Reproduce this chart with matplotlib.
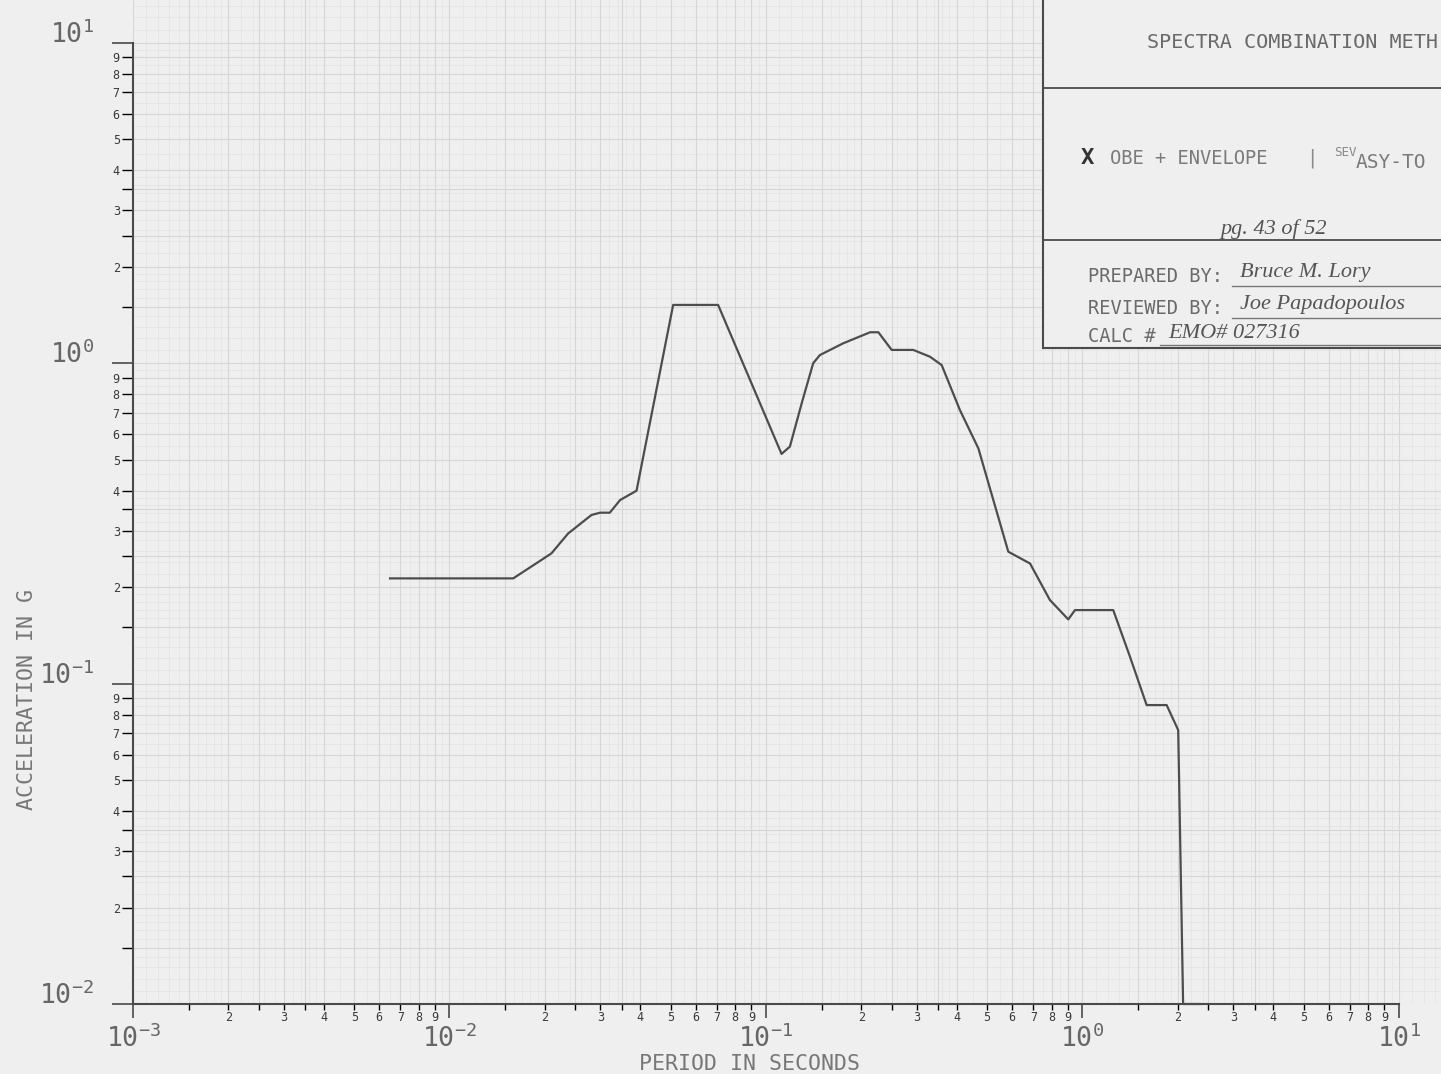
import numpy as np
import matplotlib.pyplot as plt

plt.rcParams['font.family'] = ['DejaVu Sans Mono', 'DejaVu Sans']

# response spectrum (period in s, acceleration in g)
period = [0.00649, 0.0159, 0.0195, 0.0210, 0.0237, 0.0281, 0.0299, 0.0321, 0.0346, 0.0390,
          0.0509, 0.0706, 0.112, 0.119, 0.1297, 0.141, 0.148, 0.1755, 0.2134, 0.2265, 0.2496,
          0.292, 0.3296, 0.359, 0.410, 0.469, 0.583, 0.683, 0.789, 0.902, 0.947, 1.251, 1.413,
          1.595, 1.845, 2.007, 2.08, 2.35]
accel = [0.213, 0.213, 0.243, 0.255, 0.294, 0.336, 0.3415, 0.3415, 0.374, 0.400,
         1.52, 1.52, 0.521, 0.549, 0.750, 1.0, 1.06, 1.154, 1.249, 1.249, 1.10,
         1.10, 1.048, 0.987, 0.714, 0.542, 0.258, 0.237, 0.1824, 0.1586, 0.1696, 0.1696, 0.1213,
         0.0857, 0.0857, 0.0716, 0.01, 0.01]

x_decades = [-3, -2, -1, 0, 1]
y_decades = [-2, -1, 0, 1]
minor_mult = [1.5, 2, 2.5, 3, 3.5, 4, 5, 6, 7, 8, 9]
fine_mult = [1.1, 1.2, 1.3, 1.4, 1.6, 1.7, 1.8, 1.9, 2.2, 2.4, 2.6, 2.8,
             3.2, 3.4, 3.6, 3.8, 4.5, 5.5, 6.5, 7.5, 8.5, 9.5]

paper = '#efefef'
ink = '#4a4a4a'

fig = plt.figure(figsize=(14.41, 10.74), dpi=100, facecolor=paper)
ax = fig.add_axes([133 / 1441, 1 - 1004 / 1074, 1 - 133 / 1441, 1004 / 1074])
ax.set_facecolor(paper)
ax.set_xscale('log')
ax.set_yscale('log')
ax.set_xlim(1e-3, 13.58)
ax.set_ylim(1e-2, 13.6)

# log graph paper
for d in range(-3, 2):
    for m in fine_mult:
        ax.axvline(m * 10.0 ** d, color='#e5e5e5', lw=0.6, zorder=0)
        ax.axhline(m * 10.0 ** d, color='#e5e5e5', lw=0.6, zorder=0)
ax.set_axisbelow(True)
ax.grid(True, which='both', color='#d6d6d6', lw=0.8)

ax.plot(period, accel, color='#4d4d4d', lw=1.6, clip_on=False, zorder=3)

def dec_label(d):
    return r'$\mathregular{10^{%d}}$' % d

def minor_ticks(decades):
    locs, labs = [], []
    for d in decades[:-1]:
        for m in minor_mult:
            locs.append(m * 10.0 ** d)
            labs.append(str(int(m)) if m == int(m) else '')
    return locs, labs

xmin_locs, xmin_labs = minor_ticks(x_decades)
ymin_locs, ymin_labs = minor_ticks(y_decades)

ax.set_xticks([10.0 ** d for d in x_decades], labels=[dec_label(d) for d in x_decades])
ax.set_xticks(xmin_locs, labels=xmin_labs, minor=True)
ax.set_yticks([10.0 ** d for d in y_decades], labels=[dec_label(d) for d in y_decades], va='baseline')
ax.set_yticks(ymin_locs, labels=ymin_labs, minor=True)

ax.tick_params(axis='both', colors=ink, labelcolor='#666666')
ax.tick_params(axis='x', which='major', length=10, width=1.2, pad=5, labelsize=19)
ax.tick_params(axis='x', which='minor', length=4, width=1.0, pad=1, labelsize=8.5, labelcolor='#3a3a3a')
ax.tick_params(axis='y', which='major', length=15, width=1.2, pad=13, labelsize=19)
ax.tick_params(axis='y', which='minor', length=8, width=1.0, pad=1.5, labelsize=8.5, labelcolor='#3a3a3a')

for side in ['top', 'right']:
    ax.spines[side].set_visible(False)
ax.spines['left'].set_bounds(1e-2, 10)
ax.spines['bottom'].set_bounds(1e-3, 10)
for side in ['left', 'bottom']:
    ax.spines[side].set_color(ink)
    ax.spines[side].set_linewidth(1.5)

ax.set_xlabel('PERIOD IN SECONDS', fontsize=15.5, color='#777777', va='center')
ax.xaxis.set_label_coords(0.4717, -0.0598)
ax.set_ylabel('ACCELERATION IN G', fontsize=15.5, color='#777777', va='center')
ax.yaxis.set_label_coords(-0.081, 0.3028)

# title block in the upper right corner
bx = fig.add_axes([1043 / 1441, (1074 - 348) / 1074, 432 / 1441, 360 / 1074])
bx.set_xlim(1043, 1475)
bx.set_ylim(348, -12)
bx.set_facecolor(paper)
bx.set_xticks([])
bx.set_yticks([])
for s in bx.spines.values():
    s.set_color(ink)
    s.set_linewidth(1.5)
bx.axhline(88, color=ink, lw=1.3)
bx.axhline(240, color=ink, lw=1.3)

grey = '#6a6a6a'
hand = dict(family='Liberation Serif', style='italic', color='#555555')
bx.text(1147, 43, 'SPECTRA COMBINATION METH', fontsize=14.5, color=grey, va='center')
bx.text(1081, 158, 'X', fontsize=16, fontweight='bold', color='#333333', va='center')
bx.text(1110, 158, 'OBE + ENVELOPE', fontsize=13.5, color='#7a7a7a', va='center')
bx.text(1306, 158, '|', fontsize=13.5, color='#8a8a8a', va='center')
bx.text(1334, 152, 'SEV', fontsize=9, color='#8a8a8a', va='center')
bx.text(1356, 163, 'ASY-TO', fontsize=14, color='#7a7a7a', va='center')
bx.text(1220, 229, 'pg. 43 of 52', fontsize=16, va='center', **hand)
bx.text(1088, 276, 'PREPARED BY:', fontsize=13.5, color=grey, va='center')
bx.text(1240, 273, 'Bruce M. Lory', fontsize=16, va='center', **hand)
bx.plot([1232, 1475], [286, 286], color='#777777', lw=1)
bx.text(1088, 308, 'REVIEWED BY:', fontsize=13.5, color=grey, va='center')
bx.text(1240, 305, 'Joe Papadopoulos', fontsize=16, va='center', **hand)
bx.plot([1232, 1475], [318, 318], color='#777777', lw=1)
bx.text(1088, 337, 'CALC #', fontsize=13.5, color=grey, va='center')
bx.text(1168, 334, 'EMO# 027316', fontsize=16, va='center', **hand)
bx.plot([1160, 1475], [345, 345], color='#777777', lw=1)

plt.savefig('out.png', dpi=100, facecolor=paper)
